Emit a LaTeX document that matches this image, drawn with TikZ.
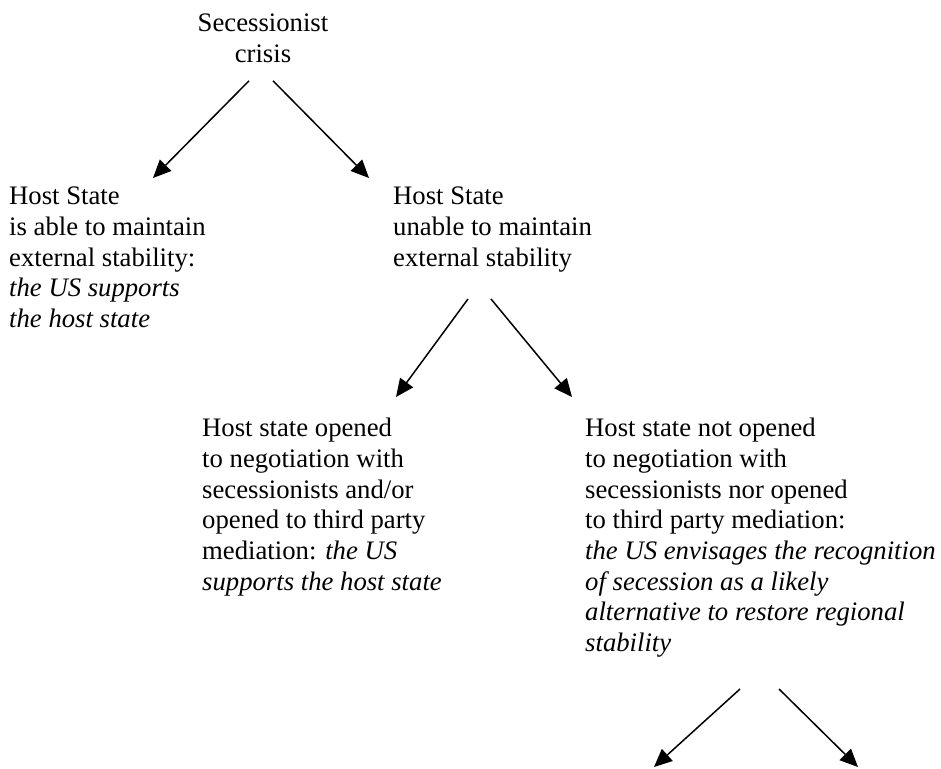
\documentclass[tikz,border=0pt]{standalone}
\usepackage{fontspec}
\setmainfont{Liberation Serif}
\usetikzlibrary{positioning, calc, arrows.meta}
\tikzset{branch/.style={line width=1.5pt, -{Triangle[length=18pt,width=16pt]}}}
\tikzset{outcome/.style={anchor=north west, align=left, inner sep=0pt, font=\fontsize{26.7}{30.7}\selectfont}}
\tikzset{root/.style={anchor=north, align=center, inner sep=0pt, font=\fontsize{26.7}{30.7}\selectfont}}

\begin{document}
\begin{tikzpicture}[x=1pt, y=-1pt]
                \useasboundingbox (0, 0) rectangle (941, 768);

                \node[root] (crisis) at (263, 13.8) {Secessionist\\crisis};
                \node[outcome] (able) at (9, 187) {Host State\\is able to maintain\\external stability:\\\textit{the US supports}\\\textit{the host state}};
                \node[outcome] (unable) at (393, 187) {Host State\\unable to maintain\\external stability};
                \node[outcome] (open) at (202, 418) {Host state opened\\to negotiation with\\secessionists and/or\\opened to third party\\mediation: \textit{the US}\\\textit{supports the host state}};
                \node[outcome] (closed) at (585, 418) {Host state not opened\\to negotiation with\\secessionists nor opened\\to third party mediation:\\\textit{the US envisages the recognition}\\\textit{of secession as a likely}\\\textit{alternative to restore regional}\\\textit{stability}};

                \coordinate (left end) at ($(closed.north west)+(69, 349)$);
                \coordinate (right end) at ($(closed.north west)+(273, 349)$);

                \draw[branch] ($(crisis.north)+(-14, 67)$) -- ($(able.north west)+(144, -9)$);
                \draw[branch] ($(crisis.north)+(10, 67)$) -- ($(unable.north west)+(-24, -9)$);
                \draw[branch] ($(unable.north west)+(75, 112)$) -- ($(open.north west)+(194, -21)$);
                \draw[branch] ($(unable.north west)+(98, 112)$) -- ($(closed.north west)+(-13, -21)$);
                \draw[branch] ($(closed.north west)+(155, 271)$) -- (left end);
                \draw[branch] ($(closed.north west)+(194, 271)$) -- (right end);
            \end{tikzpicture}
\end{document}
